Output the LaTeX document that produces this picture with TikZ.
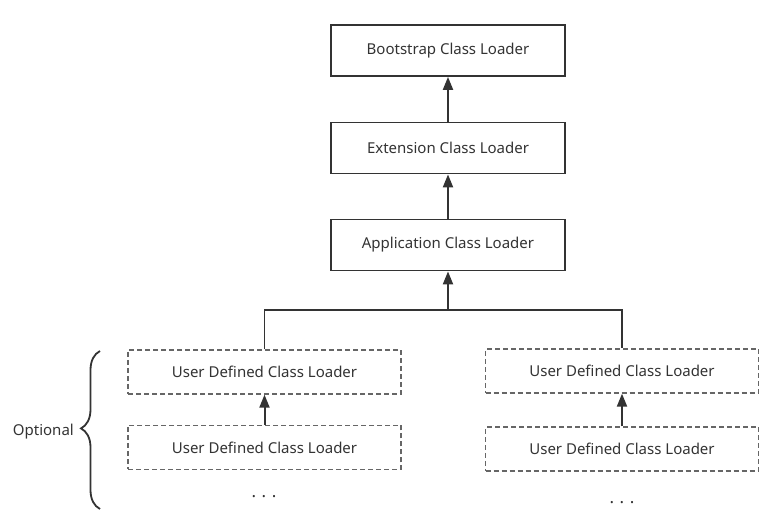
\documentclass[tikz,border=0pt]{standalone}
\usepackage{fontspec}
\setmainfont{Noto Sans}
\usetikzlibrary{arrows.meta,decorations.pathreplacing}

\definecolor{linegray}{HTML}{333333}
\definecolor{dashgray}{HTML}{666666}
\definecolor{textgray}{HTML}{333333}

\tikzset{
    loader/.style={draw=linegray, line width=1.8pt, minimum width=234pt, minimum height=51pt,
        inner sep=0pt, font=\fontsize{15}{17}\selectfont, text=textgray},
    userloader/.style={draw=dashgray, line width=1.3pt, dash pattern=on 5pt off 3pt,
        minimum width=273pt, minimum height=44pt, inner sep=0pt,
        font=\fontsize{15}{17}\selectfont, text=textgray},
    parent/.style={draw=linegray, line width=2pt, -{Triangle[length=13pt,width=10pt]}},
    link/.style={draw=linegray, line width=1.8pt}
}

\begin{document}
\begin{tikzpicture}[x=1pt,y=-1pt]
        \useasboundingbox (0,0) rectangle (780,518);

        \node[loader] (boot) at (448,50.5) {Bootstrap Class Loader};
        \node[loader] (ext) at (448,148) {Extension Class Loader};
        \node[loader] (app) at (448,245) {Application Class Loader};

        \node[userloader] (ua) at (264.5,372) {User Defined Class Loader};
        \node[userloader] (ub) at (264.5,447.5) {User Defined Class Loader};
        \node[userloader] (va) at (622,371) {User Defined Class Loader};
        \node[userloader] (vb) at (622,449) {User Defined Class Loader};

        \node[font=\fontsize{17}{19}\selectfont, text=textgray] (dotsa) at (264,497) {.\,\,.\,\,.};
        \node[font=\fontsize{17}{19}\selectfont, text=textgray] (dotsb) at (622,503) {.\,\,.\,\,.};

        \coordinate (fork) at (448,310);

        \draw[parent] (ext) -- (boot);
        \draw[parent] (app) -- (ext);
        \draw[parent] (fork) -- (app);
        \draw[link] (ua.north) |- (fork) -| (va.north);
        \draw[parent] (ub) -- (ua);
        \draw[parent] (vb) -- (va);

        % brace for the optional part
        \coordinate (bracelow) at (100,509);
        \coordinate (bracehigh) at (100,351);
        \draw[draw=linegray, line width=1.8pt, decorate,
            decoration={brace, amplitude=19pt, aspect=0.51}] (bracelow) -- (bracehigh);
        \node[anchor=east, inner sep=0pt, font=\fontsize{15}{17}\selectfont, text=textgray]
            (opt) at (74,432) {Optional};

    \end{tikzpicture}
\end{document}
